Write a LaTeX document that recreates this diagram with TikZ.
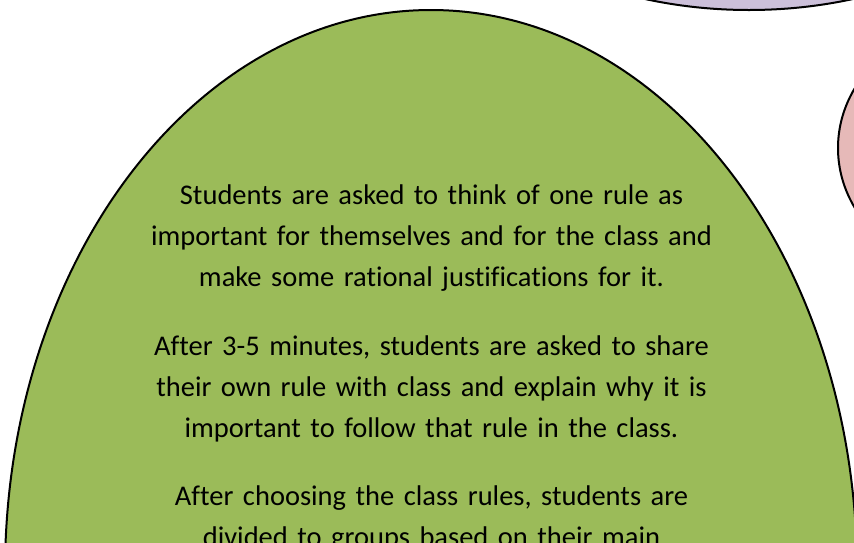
\documentclass[tikz,border=0pt]{standalone}
\usepackage{fontspec}
\setmainfont{Carlito}[Ligatures=NoCommon]
\usetikzlibrary{positioning}
\definecolor{olivefill}{HTML}{9BBB59}
\definecolor{lilacfill}{HTML}{CCC0DA}
\definecolor{rosefill}{HTML}{E6B9B8}
\tikzset{blob/.style={draw=black,line width=2pt},
  ruletext/.style={align=center,text width=600pt,inner sep=0pt,anchor=base,
    font=\fontsize{28.5}{41}\selectfont}}

\begin{document}
\begin{tikzpicture}[x=1pt,y=-1pt]
\clip (0,0) rectangle (854,542);
% bubbles
\draw[blob,fill=lilacfill] (749,-280) ellipse [x radius=380pt, y radius=290pt];
\draw[blob,fill=rosefill] (988,148) ellipse [x radius=150pt, y radius=130pt];
\draw[blob,fill=olivefill] (431,572) ellipse [x radius=426pt, y radius=562pt];
% text
\node[ruletext] (ruleA) at (431.5,204) {Students are asked to think of one rule as\\
important for themselves and for the class and\\
make some rational justifications for it.};
\node[ruletext] (ruleB) at (431.5,355) {After 3-5 minutes, students are asked to share\\
their own rule with class and explain why it is\\
important to follow that rule in the class.};
\node[ruletext] (ruleC) at (431.5,505) {After choosing the class rules, students are\\
divided to groups based on their main};
\end{tikzpicture}
\end{document}
